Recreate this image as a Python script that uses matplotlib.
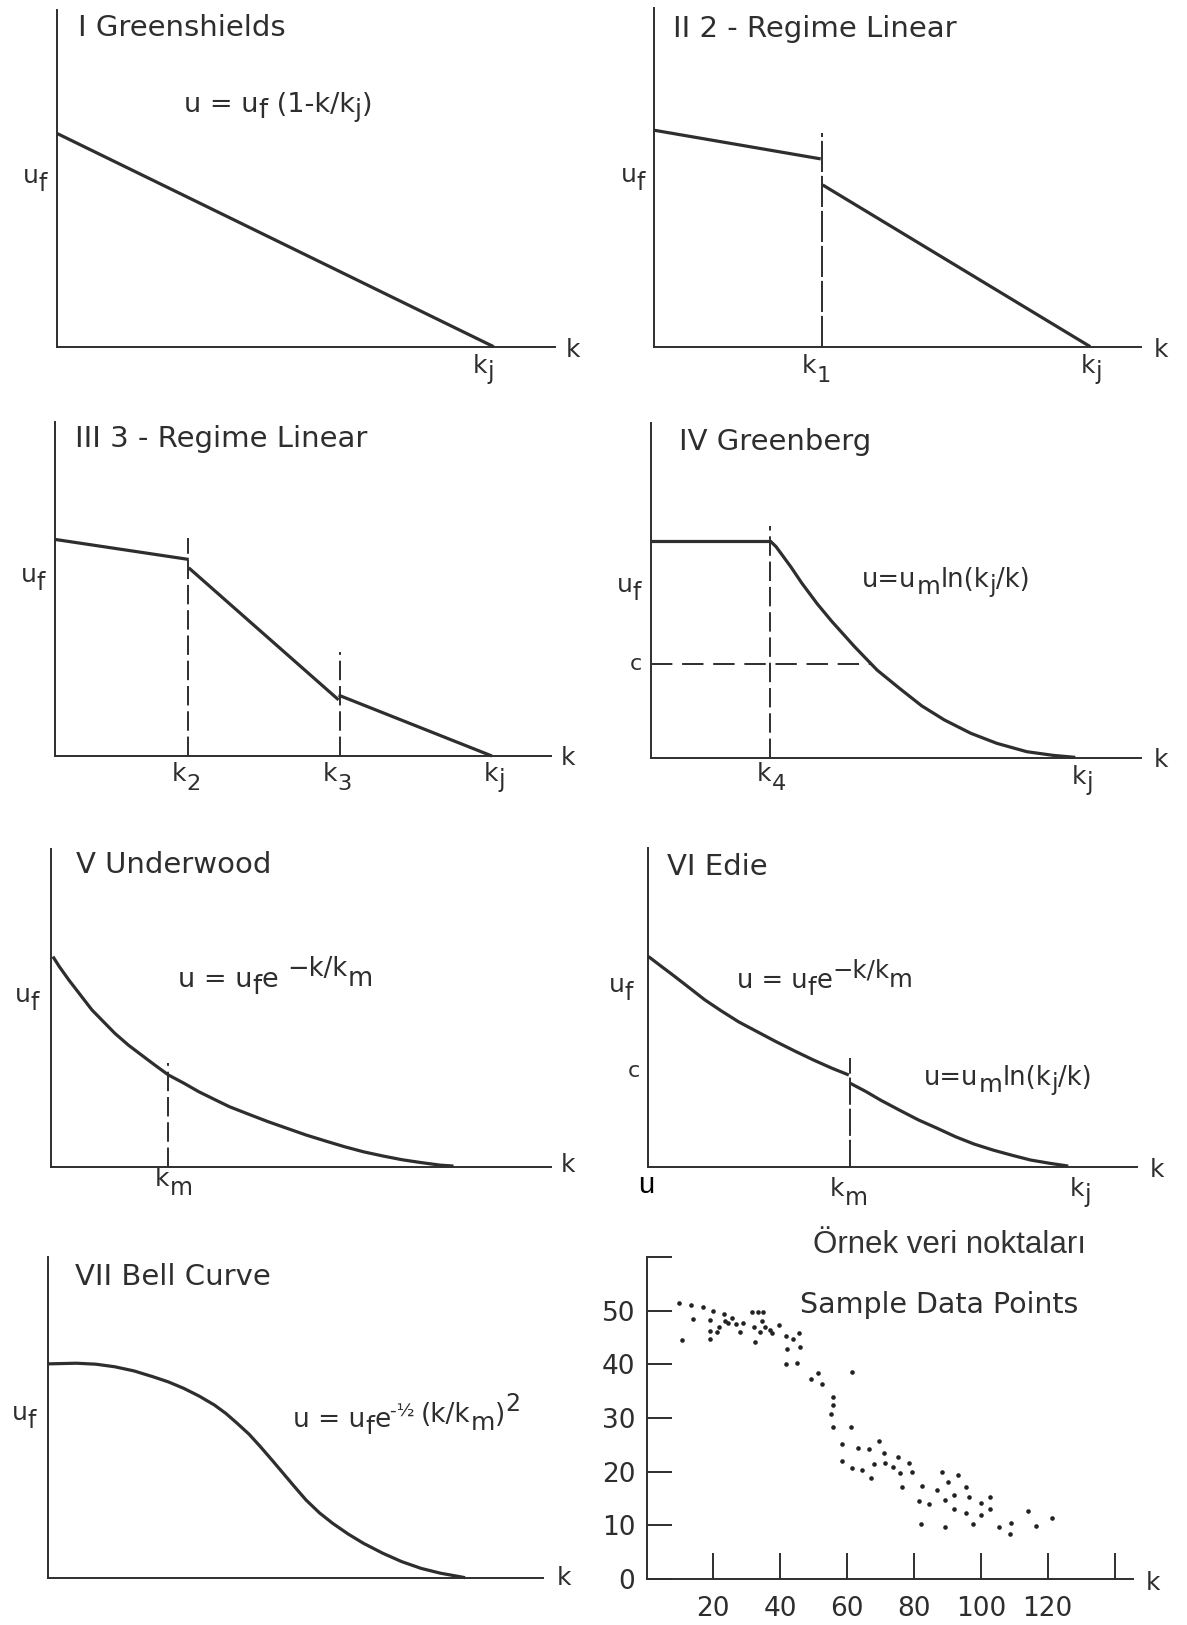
import matplotlib.pyplot as plt

plt.rcParams['font.family'] = 'DejaVu Sans'

W, H = 1187, 1625
INK = '#2e2e2e'

# I Greenshields (k and u scaled to the panel, 0..1)
greenshields_k = [0.0, 0.877]
greenshields_u = [0.634, 0.0]

# II two-regime linear
two_free_k = [0.0, 0.343]
two_free_u = [0.640, 0.555]
two_cong_k = [0.347, 0.896]
two_cong_u = [0.478, 0.0]
k1, k1_top = 0.345, 0.631

# III three-regime linear
three_k = [[0.0, 0.270], [0.270, 0.572], [0.572, 0.881]]
three_u = [[0.648, 0.588], [0.563, 0.168], [0.182, 0.0]]
k2, k2_top = 0.268, 0.651
k3, k3_top = 0.574, 0.312

# IV Greenberg
greenberg_flat_k = [0.0, 0.244]
greenberg_flat_u = [0.648, 0.648]
greenberg_k = [0.244, 0.256, 0.271, 0.286, 0.309, 0.340, 0.370, 0.416, 0.462,
               0.508, 0.553, 0.599, 0.653, 0.706, 0.767, 0.821, 0.866]
greenberg_u = [0.648, 0.631, 0.601, 0.571, 0.521, 0.460, 0.407, 0.332, 0.262,
               0.207, 0.155, 0.113, 0.073, 0.043, 0.018, 0.007, 0.001]
k4, k4_top = 0.244, 0.693
c_level, c_end = 0.28, 0.45

# V Underwood
underwood_k = [0.004, 0.017, 0.036, 0.059, 0.082, 0.105, 0.128, 0.155, 0.181,
               0.208, 0.235, 0.266, 0.296, 0.327, 0.357, 0.396, 0.434, 0.472,
               0.510, 0.549, 0.587, 0.625, 0.663, 0.702, 0.740, 0.778, 0.805]
underwood_u = [0.662, 0.630, 0.588, 0.541, 0.494, 0.457, 0.420, 0.383, 0.352,
               0.320, 0.289, 0.263, 0.236, 0.212, 0.189, 0.165, 0.142, 0.121,
               0.100, 0.081, 0.063, 0.047, 0.034, 0.022, 0.013, 0.005, 0.002]
km5, km5_top = 0.235, 0.326

# VI Edie
edie_free_k = [0.002, 0.025, 0.056, 0.087, 0.117, 0.151, 0.186, 0.224, 0.262,
               0.301, 0.339, 0.377, 0.411]
edie_free_u = [0.660, 0.633, 0.597, 0.560, 0.524, 0.489, 0.455, 0.424, 0.393,
               0.363, 0.335, 0.309, 0.288]
edie_cong_k = [0.414, 0.446, 0.476, 0.514, 0.553, 0.591, 0.629, 0.667, 0.706,
               0.744, 0.782, 0.820, 0.859]
edie_cong_u = [0.262, 0.236, 0.209, 0.178, 0.147, 0.121, 0.094, 0.071, 0.052,
               0.036, 0.021, 0.011, 0.002]
km6, km6_top = 0.413, 0.340

# VII Bell curve
bell_k = [0.0, 0.058, 0.097, 0.135, 0.174, 0.212, 0.243, 0.274, 0.305, 0.336,
          0.359, 0.382, 0.406, 0.429, 0.452, 0.475, 0.498, 0.521, 0.548, 0.575,
          0.606, 0.637, 0.676, 0.714, 0.753, 0.792, 0.842]
bell_u = [0.668, 0.670, 0.667, 0.659, 0.646, 0.628, 0.612, 0.592, 0.568, 0.540,
          0.514, 0.483, 0.449, 0.410, 0.369, 0.327, 0.285, 0.244, 0.204, 0.171,
          0.138, 0.109, 0.078, 0.052, 0.031, 0.016, 0.002]

# sample data points: density k and speed u
sample_k = [9.8, 10.7, 13.2, 14.0, 17.0, 19.0, 20.0, 19.0, 19.0, 21.2, 21.8,
            23.2, 23.5, 24.5, 25.5, 26.8, 28.0, 29.0, 31.5, 33.2, 34.8, 32.2,
            32.5, 34.5, 34.0, 35.5, 37.0, 37.5, 39.6, 41.7, 43.9, 45.7, 41.9,
            45.9, 41.6, 45.1, 49.1, 51.4, 52.4, 61.4,
            55.9, 55.7, 55.1, 55.7, 61.2, 58.6, 58.6, 63.2, 66.6, 69.4, 71.1,
            75.3, 78.5, 61.5, 64.4, 67.0, 68.1, 71.4, 73.8, 75.8, 79.3, 76.5,
            82.5, 81.6, 84.6, 82.0, 87.0, 88.3, 90.3, 93.1, 89.4, 92.0, 92.0,
            89.3, 95.7, 96.5, 95.6, 97.7, 100.1, 100.1, 102.7, 102.7, 105.5,
            109.0, 108.7, 114.0, 116.5, 121.3]
sample_u = [51.4, 44.6, 51.1, 48.5, 50.7, 48.3, 49.9, 46.2, 44.8, 46.1, 47.0,
            49.3, 48.1, 47.7, 48.6, 47.5, 46.1, 47.7, 49.8, 49.8, 49.8, 47.0,
            44.1, 48.0, 46.1, 47.0, 46.4, 45.9, 47.4, 45.2, 44.8, 45.8, 42.9,
            43.3, 40.1, 40.2, 37.3, 38.4, 36.4, 38.5,
            33.9, 32.4, 30.8, 28.3, 28.3, 25.2, 21.9, 24.4, 24.2, 25.7, 23.5,
            22.7, 21.7, 20.7, 20.4, 18.8, 21.5, 21.7, 20.9, 19.7, 20.0, 17.1,
            17.3, 14.5, 13.9, 10.3, 16.6, 19.9, 18.1, 19.4, 14.8, 15.7, 13.1,
            9.7, 17.2, 15.2, 12.3, 10.2, 14.1, 12.0, 15.2, 13.0, 9.6,
            10.4, 8.3, 12.6, 9.9, 11.4]
y_ticks = [0, 10, 20, 30, 40, 50, 60]
y_labels = ['0', '10', '20', '30', '40', '50', '']
x_ticks = [20, 40, 60, 80, 100, 120, 140]
x_labels = ['20', '40', '60', '80', '100', '120', '']

fig = plt.figure(figsize=(W / 100, H / 100), dpi=100)
fig.patch.set_facecolor('white')
renderer = fig.canvas.get_renderer()


def frame(x0, ya, x1, yt, xmax=1.0, ymax=1.0):
    # axes placed by pixel position of origin, right end and top of the axis lines
    ax = fig.add_axes([x0 / W, 1 - ya / H, (x1 - x0) / W, (ya - yt) / H])
    ax.set_xlim(0, xmax)
    ax.set_ylim(0, ymax)
    for s in ('top', 'right'):
        ax.spines[s].set_visible(False)
    for s in ('left', 'bottom'):
        ax.spines[s].set_color(INK)
        ax.spines[s].set_linewidth(1.4)
    ax.set_xticks([])
    ax.set_yticks([])
    ax.patch.set_alpha(0)
    return ax


def put(X, Y, s, size=18, **kw):
    kw.setdefault('color', INK)
    return fig.text(X / W, 1 - Y / H, s, fontsize=size, va='baseline', **kw)


def runs(X, Y, parts, size=18.5):
    # pieces of text set one after another; dy shifts a piece down (px)
    x = X
    for s, dy, scale in parts:
        t = put(x, Y + dy, s, size * scale)
        x += t.get_window_extent(renderer).width


def sub(X, Y, main, low, dy, size=18, scale=0.95):
    runs(X, Y, [(main, 0, 1), (low, dy, scale)], size)


def curve(ax, k, u):
    ax.plot(k, u, color=INK, lw=2.3, clip_on=False,
            solid_capstyle='butt', solid_joinstyle='round')


def guide(ax, xs, ys, dashes=(10, 3)):
    ax.plot(xs, ys, color=INK, lw=1.4, dashes=dashes, clip_on=False)


# I Greenshields
ax = frame(56.6, 346.7, 555, 10)
curve(ax, greenshields_k, greenshields_u)
put(78, 36, 'I Greenshields', 21)
runs(184, 112, [('u = u', 0, 1), ('f', 6, 0.95), (' (1-k/k', 0, 1),
                ('j', 5, 0.9), (')', 0, 1)], 19.5)
sub(23, 183, 'u', 'f', 8)
put(566, 357, 'k')
sub(473, 373, 'k', 'j', 6)

# II two-regime
ax = frame(653.5, 346.7, 1141, 8.3)
curve(ax, two_free_k, two_free_u)
curve(ax, two_cong_k, two_cong_u)
guide(ax, [k1, k1], [0, k1_top], dashes=(16, 2))
put(673, 37, 'II 2 - Regime Linear', 21)
sub(621, 182, 'u', 'f', 8)
put(1154, 357, 'k')
sub(802, 373, 'k', '1', 9, scale=0.9)
sub(1081, 373, 'k', 'j', 6)

# III three-regime
ax = frame(54.7, 756, 551, 421.7)
for k, u in zip(three_k, three_u):
    curve(ax, k, u)
guide(ax, [k2, k2], [0, k2_top])
guide(ax, [k3, k3], [0, k3_top])
put(75, 447, 'III 3 - Regime Linear', 21)
sub(21, 582, 'u', 'f', 8)
put(561, 765, 'k')
sub(172, 781, 'k', '2', 9, scale=0.9)
sub(323, 781, 'k', '3', 9, scale=0.9)
sub(484, 781, 'k', 'j', 6)

# IV Greenberg
ax = frame(650.5, 757.7, 1141, 423.3)
curve(ax, greenberg_flat_k, greenberg_flat_u)
curve(ax, greenberg_k, greenberg_u)
guide(ax, [k4, k4], [0, k4_top])
guide(ax, [0, c_end], [c_level, c_level], dashes=(11, 5))
put(679, 450, 'IV Greenberg', 21)
runs(862, 587, [('u=u', 0, 1), ('m', 7, 0.95), ('ln(k', 0, 1),
                ('j', 5, 0.9), ('/k)', 0, 1)])
sub(617, 592, 'u', 'f', 8)
put(630, 670, 'c', 16)
put(1154, 767, 'k')
sub(757, 781, 'k', '4', 9, scale=0.9)
sub(1072, 784, 'k', 'j', 6)

# V Underwood
ax = frame(50.9, 1166.7, 551, 849.3)
curve(ax, underwood_k, underwood_u)
guide(ax, [km5, km5], [0, km5_top])
put(76, 873, 'V Underwood', 21)
runs(178, 987, [('u = u', 0, 1), ('f', 7, 0.95), ('e ', 0, 1),
                ('\u2212k/k', -11, 0.95), ('m', -1, 0.95)], 19.5)
sub(15, 1002, 'u', 'f', 8)
put(561, 1172, 'k')
sub(155, 1186, 'k', 'm', 9)

# VI Edie
ax = frame(647.5, 1166.7, 1137.3, 848.3)
curve(ax, edie_free_k, edie_free_u)
curve(ax, edie_cong_k, edie_cong_u)
guide(ax, [km6, km6], [0, km6_top], dashes=(14, 2))
put(667, 875, 'VI Edie', 21)
runs(737, 988, [('u = u', 0, 1), ('f', 7, 0.95), ('e', 0, 1),
                ('\u2212k/k', -11, 0.95), ('m', -1, 0.95)])
runs(924, 1085, [('u=u', 0, 1), ('m', 7, 0.95), ('ln(k', 0, 1),
                 ('j', 5, 0.9), ('/k)', 0, 1)])
sub(609, 992, 'u', 'f', 8)
put(628, 1077, 'c', 16)
put(638, 1193, 'u', 21, family='Liberation Sans', color='black')
put(1150, 1177, 'k')
sub(830, 1196, 'k', 'm', 9)
sub(1070, 1196, 'k', 'j', 6)

# VII Bell curve
ax = frame(47.8, 1578.3, 543.4, 1257.3)
curve(ax, bell_k, bell_u)
put(75, 1285, 'VII Bell Curve', 21)
runs(293, 1427, [('u = u', 0, 1), ('f', 7, 0.95), ('e', 0, 1),
                 ('-½ ', -10, 0.7), ('(k/k', -5, 1), ('m', 3, 0.95),
                 (')', -5, 1), ('2', -16, 0.9)], 19)
sub(12, 1420, 'u', 'f', 8)
put(557, 1585, 'k')

# sample data points
ax = frame(646.5, 1579, 1133, 1257, xmax=145.5, ymax=59.6)
ax.plot(sample_k, sample_u, 'o', ms=3.3, color='#222222', mec='none', clip_on=False)
ax.set_xticks(x_ticks)
ax.set_xticklabels(x_labels)
ax.set_yticks(y_ticks)
ax.set_yticklabels(y_labels)
ax.tick_params(axis='x', direction='in', length=19, width=1.4, color=INK,
               pad=12, labelsize=19, labelcolor=INK)
ax.tick_params(axis='y', direction='in', length=18, width=1.4, color=INK,
               pad=8, labelsize=19, labelcolor=INK)
put(813, 1253, 'Örnek veri noktaları', 22.5, family='Liberation Sans', color='#333333')
put(800, 1313, 'Sample Data Points', 20.5)
put(1146, 1590, 'k')

fig.savefig('out.png', dpi=100, facecolor='white')
